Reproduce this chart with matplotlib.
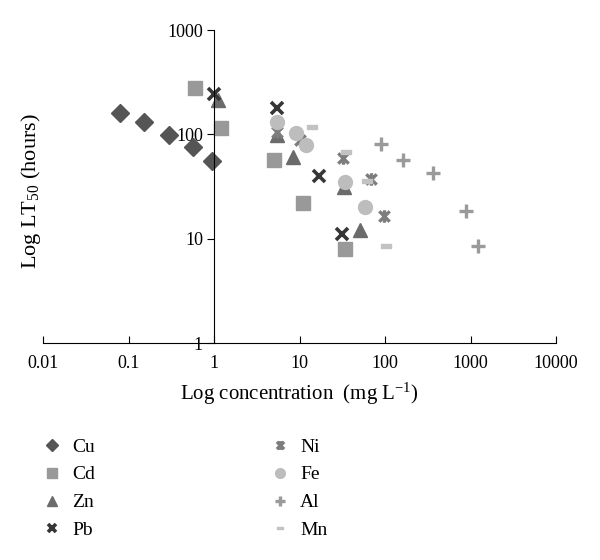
import matplotlib.pyplot as plt
from matplotlib.path import Path

plt.rcParams["font.family"] = ["Liberation Serif", "DejaVu Serif"]
plt.rcParams["mathtext.fontset"] = "custom"
plt.rcParams["mathtext.rm"] = "Liberation Serif"
plt.rcParams["mathtext.it"] = "Liberation Serif:italic"

# values (mg/L, hours)
cu_x = [0.08, 0.15, 0.3, 0.56, 0.95]
cu_y = [160, 132, 98, 75, 55]
cd_x = [0.6, 1.2, 5, 11, 34]
cd_y = [280, 115, 57, 22, 8]
zn_x = [1.1, 5.4, 8.3, 33, 51]
zn_y = [213, 98, 60, 31, 12]
pb_x = [1.0, 5.5, 17, 31]
pb_y = [245, 177, 40, 11]
ni_x = [5.5, 10, 32, 68, 98]
ni_y = [105, 89, 59, 37, 16.5]
fe_x = [5.4, 9, 12, 34, 58]
fe_y = [132, 102, 79, 35, 20]
al_x = [89, 160, 360, 890, 1220]
al_y = [81, 57, 43, 18.5, 8.5]
mn_x = [14, 35, 61, 103]
mn_y = [118, 67, 36, 8.5]

x_ticks = [0.01, 0.1, 1, 10, 100, 1000, 10000]
y_ticks = [1, 10, 100, 1000]

star = Path([(-1, -1), (1, 1), (-1, 1), (1, -1), (0, -1.2), (0, 1.2)],
            [Path.MOVETO, Path.LINETO, Path.MOVETO, Path.LINETO,
             Path.MOVETO, Path.LINETO])
dash = Path([(-1, -0.4), (1, -0.4), (1, 0.4), (-1, 0.4), (-1, -0.4)],
            [Path.MOVETO, Path.LINETO, Path.LINETO, Path.LINETO,
             Path.CLOSEPOLY])

fig = plt.figure(figsize=(6, 5.6), dpi=100)
ax = fig.add_axes([0.0717, 0.3875, 0.8553, 0.5589])

ax.plot(cu_x, cu_y, "D", ls="none", color="#555555", ms=9, label="Cu")
ax.plot(cd_x, cd_y, "s", ls="none", color="#999999", ms=10, label="Cd")
ax.plot(zn_x, zn_y, "^", ls="none", color="#6b6b6b", ms=10, label="Zn")
ax.plot(pb_x, pb_y, "x", ls="none", color="#363636", ms=9, mew=2.6, label="Pb")
ax.plot(ni_x, ni_y, marker=star, ls="none", color="#7d7d7d", ms=9, mew=2.4, label="Ni")
ax.plot(fe_x, fe_y, "o", ls="none", color="#bdbdbd", ms=10, label="Fe")
ax.plot(al_x, al_y, "+", ls="none", color="#9a9a9a", ms=10, mew=2.4, label="Al")
ax.plot(mn_x, mn_y, marker=dash, ls="none", color="#c2c2c2", ms=7, label="Mn")

ax.set_xscale("log")
ax.set_yscale("log")
ax.set_xlim(0.01, 10000)
ax.set_ylim(1, 1000)
ax.set_xticks(x_ticks)
ax.set_xticklabels([f"{v:g}" for v in x_ticks])
ax.set_yticks(y_ticks)
ax.set_yticklabels([f"{v:g}" for v in y_ticks])
ax.minorticks_off()

ax.spines["left"].set_position(("data", 1))
ax.spines["top"].set_visible(False)
ax.spines["right"].set_visible(False)
ax.tick_params(axis="x", direction="in", length=5, labelsize=13, pad=9)
ax.tick_params(axis="y", direction="out", length=5, labelsize=13, pad=3)

ax.set_xlabel("Log concentration  (mg L$^{-1}$)", fontsize=15, labelpad=6)
ax.set_ylabel("Log LT$_{50}$ (hours)", fontsize=16)
ax.yaxis.set_label_coords(0.0, 0.485)

fig.legend(loc="upper left", bbox_to_anchor=(0.07, 0.218), ncol=2,
           frameon=False, fontsize=14, columnspacing=9.0, handlelength=1.0,
           handletextpad=0.55, labelspacing=0.53, borderpad=0,
           borderaxespad=0, numpoints=1, markerscale=0.7)

fig.savefig("out.png", dpi=100)
